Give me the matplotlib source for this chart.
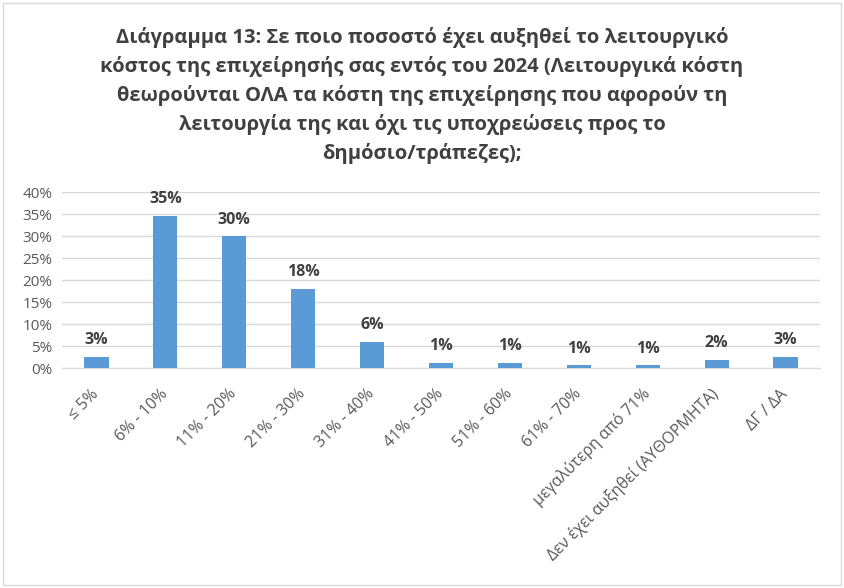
import matplotlib.pyplot as plt
from matplotlib.patches import Rectangle

plt.rcParams['font.family'] = ['Open Sans', 'DejaVu Sans']

categories = ['≤ 5%', '6% - 10%', '11% - 20%', '21% - 30%', '31% - 40%',
              '41% - 50%', '51% - 60%', '61% - 70%', 'μεγαλύτερη από 71%',
              'Δεν έχει αυξηθεί (ΑΥΘΟΡΜΗΤΑ)', 'ΔΓ / ΔΑ']
values = [2.6, 34.6, 29.9, 18.0, 6.0, 1.2, 1.2, 0.6, 0.6, 1.9, 2.6]
yticks = [0, 5, 10, 15, 20, 25, 30, 35, 40]

title = ("Διάγραμμα 13: Σε ποιο ποσοστό έχει αυξηθεί το λειτουργικό\n"
         "κόστος της επιχείρησής σας εντός του 2024 (Λειτουργικά κόστη\n"
         "θεωρούνται ΟΛΑ τα κόστη της επιχείρησης που αφορούν τη\n"
         "λειτουργία της και όχι τις υποχρεώσεις προς το\n"
         "δημόσιο/τράπεζες);")

fig = plt.figure(figsize=(8.44, 5.88), dpi=100)
ax = fig.add_axes([62 / 844, 1 - 368 / 588, (820 - 62) / 844, (368 - 192) / 588])

x = range(len(categories))
bars = ax.bar(x, values, width=0.35, color='#5B9BD5', zorder=3)
for b, v in zip(bars, values):
    ax.text(b.get_x() + b.get_width() / 2, v + 2.0, f'{round(v):.0f}%',
            ha='center', va='bottom', fontsize=11.5, fontweight='bold', color='#404040')

ax.set_xlim(-0.5, len(categories) - 0.5)
ax.set_ylim(0, 40)
ax.set_yticks(yticks)
ax.set_yticklabels([f'{t}%' for t in yticks], fontsize=11, color='#595959')
ax.set_xticks(list(x))
ax.set_xticklabels(categories, rotation=45, ha='right', va='center',
                   rotation_mode='anchor', fontsize=11.5, color='#595959')
ax.tick_params(axis='both', length=0)
ax.tick_params(axis='x', pad=17)
ax.tick_params(axis='y', pad=7)
ax.grid(axis='y', color='#D9D9D9', linewidth=1, zorder=0)
for s in ['top', 'right', 'left']:
    ax.spines[s].set_visible(False)
ax.spines['bottom'].set_color('#D9D9D9')

fig.text(0.5, 1 - 27 / 588, title, ha='center', va='top', fontsize=14.5,
         fontweight='bold', color='#404040', linespacing=1.5)

fig.patches.append(Rectangle((3 / 844, 3 / 588), 1 - 6 / 844, 1 - 6 / 588,
                             transform=fig.transFigure, fill=False,
                             edgecolor='#D9D9D9', linewidth=1))

fig.savefig('out.png', dpi=100)
